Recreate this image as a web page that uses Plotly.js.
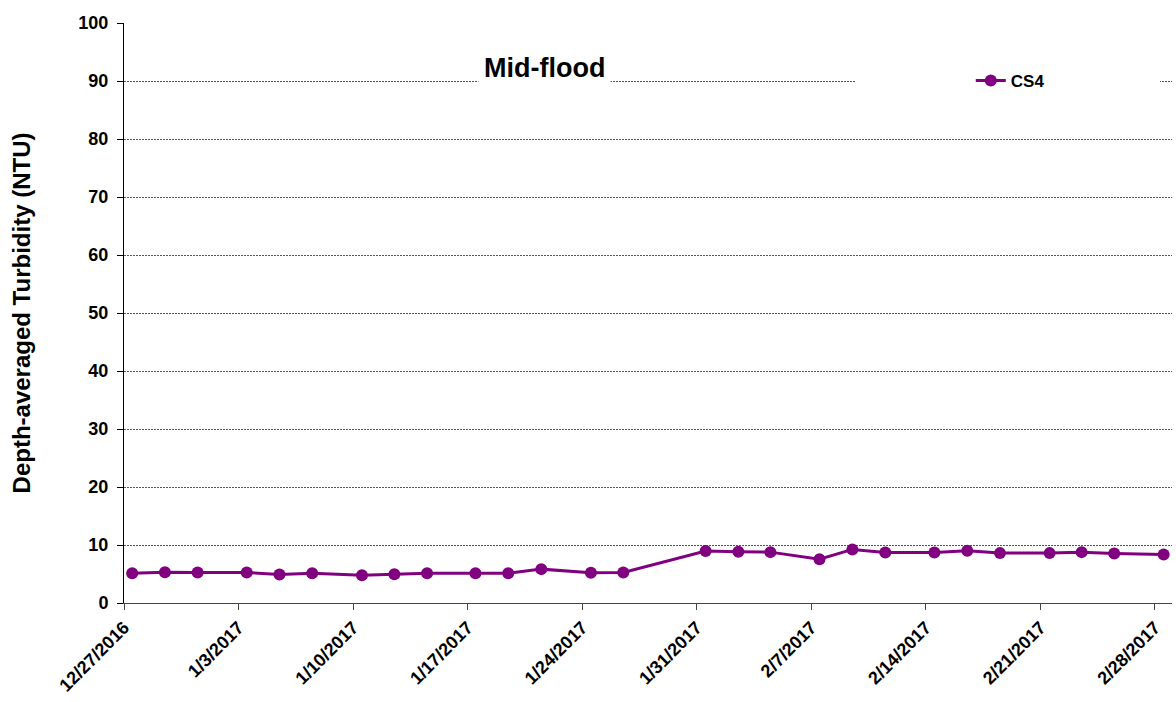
<!DOCTYPE html>
<html>
<head>
<meta charset="utf-8">
<script src="https://cdn.plot.ly/plotly-3.0.1.min.js"></script>
<style>html,body{margin:0;padding:0;background:#fff;}#chart{width:1176px;height:702px;}</style>
</head>
<body>
<div id="chart"></div>
<script>
var sampleDates = [
  '2016-12-27 12:00','2016-12-29 12:00','2016-12-31 12:00','2017-01-03 12:00','2017-01-05 12:00',
  '2017-01-07 12:00','2017-01-10 13:00','2017-01-12 12:30','2017-01-14 12:30','2017-01-17 11:30',
  '2017-01-19 11:30','2017-01-21 12:00','2017-01-24 12:45','2017-01-26 12:15','2017-01-31 13:00',
  '2017-02-02 13:00','2017-02-04 12:00','2017-02-07 12:00','2017-02-09 12:15','2017-02-11 12:30',
  '2017-02-14 12:30','2017-02-16 12:45','2017-02-18 12:45','2017-02-21 13:30','2017-02-23 12:30',
  '2017-02-25 12:15','2017-02-28 12:45'
];
var cs4Turbidity = [
  5.14, 5.32, 5.26, 5.26, 4.91, 5.14, 4.80, 4.97, 5.14, 5.14, 5.14, 5.84, 5.20, 5.26,
  8.95, 8.83, 8.77, 7.54, 9.24, 8.71, 8.71, 9.00, 8.60, 8.60, 8.77, 8.54, 8.36
];
var seriesName = 'CS4';
var chartTitle = 'Mid-flood';
var yTitle = 'Depth-averaged Turbidity (NTU)';
var xRange = ['2016-12-27', '2017-03-01 01:00'];
var yTicks = [0,10,20,30,40,50,60,70,80,90,100];

var fam = '"Liberation Sans", Arial, sans-serif';
var trace = {
  x: sampleDates, y: cs4Turbidity, name: seriesName,
  type: 'scatter', mode: 'lines+markers',
  line: {color: '#800080', width: 3},
  marker: {color: '#800080', size: 12},
  cliponaxis: false
};
var layout = {
  width: 1176, height: 702,
  margin: {l: 124, r: 4, t: 23, b: 99},
  paper_bgcolor: '#fff', plot_bgcolor: '#fff',
  font: {family: fam, color: '#000'},
  showlegend: true,
  legend: {x: 0.808, y: 0.9, xanchor: 'left', yanchor: 'middle', bgcolor: 'rgba(0,0,0,0)',
           font: {family: fam, size: 17, weight: 'bold', color: '#000'}},
  xaxis: {
    type: 'date', range: xRange, tick0: '2016-12-27', dtick: 7*86400000,
    tickformat: '%-m/%-d/%Y', tickangle: -45,
    tickfont: {family: fam, size: 18, weight: 'bold', color: '#000'},
    ticks: 'outside', ticklen: 6, tickcolor: '#444',
    showline: true, linecolor: '#444', linewidth: 1,
    showgrid: false, zeroline: false
  },
  yaxis: {
    range: [0, 100], tickvals: yTicks,
    tickfont: {family: fam, size: 18, weight: 'bold', color: '#000'},
    ticks: 'outside', ticklen: 6, tickcolor: '#000', ticklabelstandoff: 5,
    showline: true, linecolor: '#000', linewidth: 1,
    showgrid: true, gridcolor: '#555', griddash: '2px,1px', gridwidth: 1,
    zeroline: false,
    title: {text: yTitle, font: {family: fam, size: 24, weight: 'bold', color: '#000'}, standoff: 40}
  },
  shapes: [{type: 'rect', xref: 'paper', yref: 'paper', x0: 0.6975, x1: 0.9885, y0: 0.88, y1: 0.92,
            fillcolor: '#fff', line: {width: 0}, layer: 'above'}],
  annotations: [{text: chartTitle, xref: 'paper', yref: 'paper', x: 0.4017, y: 0.922,
                 xanchor: 'center', yanchor: 'middle', showarrow: false, bgcolor: '#fff', borderpad: 5,
                 font: {family: fam, size: 27, weight: 'bold', color: '#000'}}]
};
Plotly.newPlot('chart', [trace], layout, {displayModeBar: false, staticPlot: true});
</script>
</body>
</html>
